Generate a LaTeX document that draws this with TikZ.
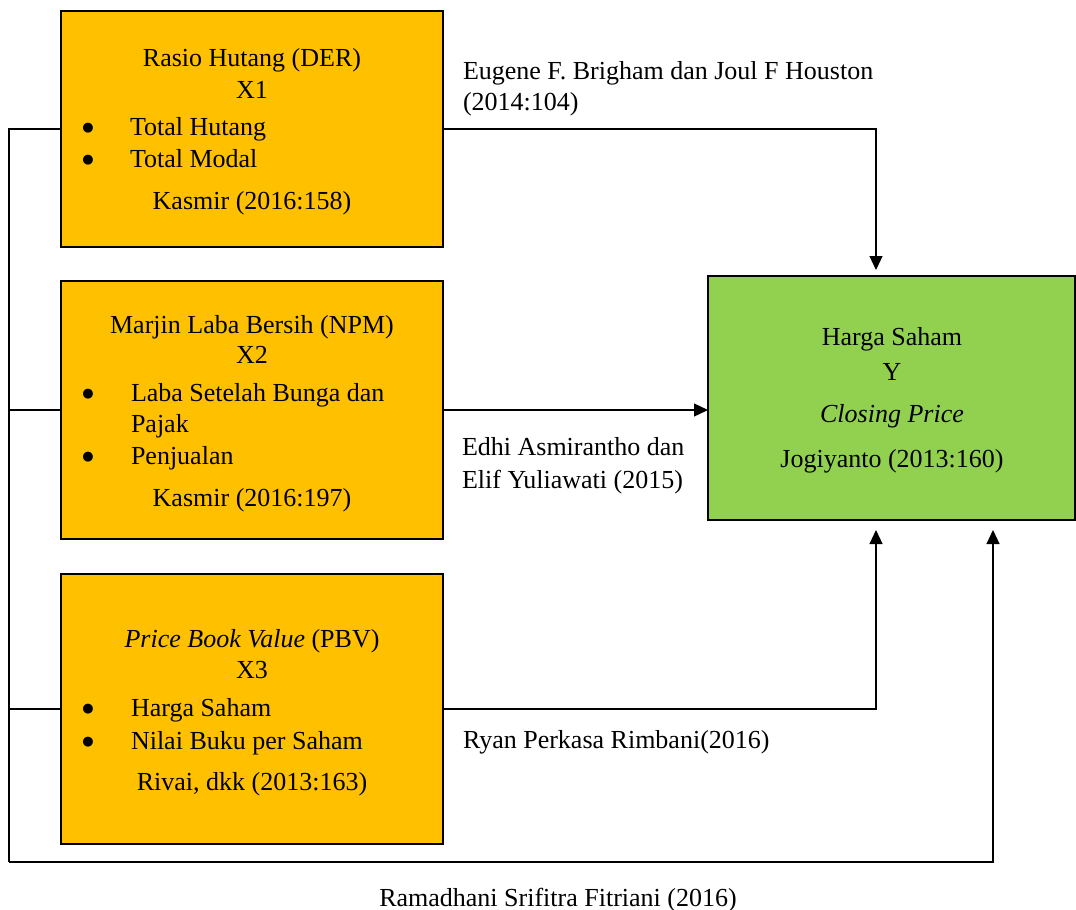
\documentclass[tikz,border=0pt]{standalone}
\usepackage{fontspec}
\setmainfont{Liberation Serif}
\newfontfamily\symfont{DejaVu Sans}
\usetikzlibrary{arrows.meta,calc}
\definecolor{boxorange}{HTML}{FFC000}
\definecolor{boxgreen}{HTML}{92D050}
\begin{document}
\begin{tikzpicture}[x=1pt,y=-1pt,
  every node/.style={inner sep=0pt,outer sep=0pt,font=\fontsize{26}{33}\selectfont},
  xbox/.style={draw=black,line width=2pt,fill=boxorange,minimum width=382pt},
  ybox/.style={draw=black,line width=2pt,fill=boxgreen},
  ctext/.style={anchor=base},
  ltext/.style={anchor=base west},
  bul/.style={anchor=center,font=\symfont\fontsize{13}{13}\selectfont},
  conn/.style={draw=black,line width=1.2pt},
  arr/.style={conn,-{Triangle[length=14pt,width=13pt]}}]
\useasboundingbox (0,0) rectangle (1076,910);

% boxes
\node[xbox,minimum height=236pt] (x1) at (252,129) {};
\node[xbox,minimum height=258pt] (x2) at (252,410) {};
\node[xbox,minimum height=270pt] (x3) at (252,709) {};
\node[ybox,minimum width=367pt,minimum height=244pt] (y) at (891.5,398) {};

% X1 text
\node[ctext] (x1t1) at (252,66) {Rasio Hutang (DER)};
\node[ctext] (x1t2) at (252,98) {X1};
\node[bul] (x1b1) at (88,128) {●};
\node[ltext] (x1t3) at (130,135) {Total Hutang};
\node[bul] (x1b2) at (88,160) {●};
\node[ltext] (x1t4) at (130,167) {Total Modal};
\node[ctext] (x1t5) at (252,209) {Kasmir (2016:158)};

% X2 text
\node[ctext] (x2t1) at (252,333) {Marjin Laba Bersih (NPM)};
\node[ctext] (x2t2) at (252,363) {X2};
\node[bul] (x2b1) at (88,394) {●};
\node[ltext] (x2t3) at (131,401) {Laba Setelah Bunga dan};
\node[ltext] (x2t4) at (131,432) {Pajak};
\node[bul] (x2b2) at (88,457) {●};
\node[ltext] (x2t5) at (131,464) {Penjualan};
\node[ctext] (x2t6) at (252,506) {Kasmir (2016:197)};

% X3 text
\node[ctext] (x3t1) at (252,647) {\textit{Price Book Value} (PBV)};
\node[ctext] (x3t2) at (252,678) {X3};
\node[bul] (x3b1) at (88,709) {●};
\node[ltext] (x3t3) at (131,716) {Harga Saham};
\node[bul] (x3b2) at (88,742) {●};
\node[ltext] (x3t4) at (131,749) {Nilai Buku per Saham};
\node[ctext] (x3t5) at (252,790) {Rivai, dkk (2013:163)};

% Y text
\node[ctext] (yt1) at (892,345) {Harga Saham};
\node[ctext] (yt2) at (892,380) {Y};
\node[ctext] (yt3) at (892,422) {\textit{Closing Price}};
\node[ctext] (yt4) at (892,467) {Jogiyanto (2013:160)};

% connector labels
\node[ltext] (l1a) at (463,79) {Eugene F. Brigham dan Joul F Houston};
\node[ltext] (l1b) at (463,110) {(2014:104)};
\node[ltext] (l2a) at (462,455) {Edhi Asmirantho dan};
\node[ltext] (l2b) at (462,488) {Elif Yuliawati (2015)};
\node[ltext] (l3) at (463,748) {Ryan Perkasa Rimbani(2016)};
\node[ctext] (l4) at (558,906) {Ramadhani Srifitra Fitriani (2016)};

% helper coordinates
\coordinate (bl) at (9,862);
\coordinate (c1) at (876,0);
\coordinate (c2) at (993,0);

% connectors
\draw[arr,shorten >=6pt] (x1.east) -| (y.north -| c1);
\draw[arr] (x2.east) -- (y.west |- x2.east);
\draw[arr,shorten >=10pt] (x3.east) -| (y.south -| c1);
\draw[conn] (x1.west) -| (bl);
\draw[conn] (x2.west) -- (x2.west -| bl);
\draw[conn] (x3.west) -- (x3.west -| bl);
\draw[arr,shorten >=10pt] (bl) -| (y.south -| c2);
\end{tikzpicture}
\end{document}
